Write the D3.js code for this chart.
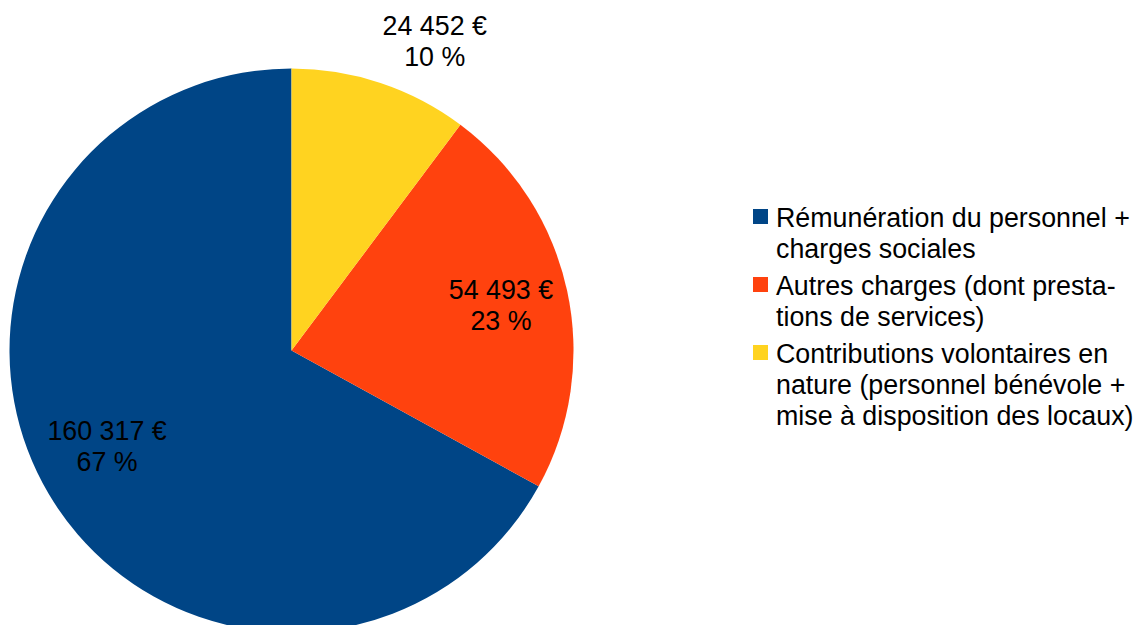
<!DOCTYPE html>
<html lang="fr">
<head>
  <meta charset="UTF-8">
  <style type="text/css">
    body {margin:0; background:#fff;}
    svg text {font-family: "Liberation Sans", Arial, sans-serif; font-size: 26.8px; fill: #000;}
  </style>
  <title>Charges</title>
</head>
<body>
  <svg id="chart" width="1138" height="625"></svg>

  <script src="https://d3js.org/d3.v7.min.js"></script>
  <script type="text/javascript">
    // data
    var categories = [
      "Rémunération du personnel + charges sociales",
      "Autres charges (dont prestations de services)",
      "Contributions volontaires en nature (personnel bénévole + mise à disposition des locaux)"
    ];
    var values = [160317, 54493, 24452];
    var legendLines = [
      ["Rémunération du personnel +", "charges sociales"],
      ["Autres charges (dont presta-", "tions de services)"],
      ["Contributions volontaires en", "nature (personnel bénévole +", "mise à disposition des locaux)"]
    ];
    var colors = ["#004586", "#ff420e", "#ffd320"];

    var svg = d3.select("#chart");
    var cx = 291.5, cy = 350.5, radius = 282;

    var total = d3.sum(values);
    var fr = d3.formatLocale({decimal: ",", thousands: " ", grouping: [3], currency: ["", " €"]});
    var fmtMoney = fr.format(",d");

    var color = d3.scaleOrdinal().domain(categories).range(colors);

    // LibreOffice draws slices counter-clockwise from 12 o'clock
    var pie = d3.pie()
        .sort(null)
        .value(function(d) { return d.value; })
        .startAngle(0)
        .endAngle(-2 * Math.PI);

    var data = categories.map(function(c, i) { return {name: c, value: values[i]}; });
    var arcs = pie(data);

    var arc = d3.arc().innerRadius(0).outerRadius(radius);

    var g = svg.append("g").attr("transform", "translate(" + cx + "," + cy + ")");

    g.selectAll("path.slice")
      .data(arcs)
      .enter().append("path")
        .attr("class", "slice")
        .attr("d", arc)
        .attr("fill", function(d) { return color(d.data.name); });

    // labels
    var inside = d3.arc().innerRadius(radius * 0.76).outerRadius(radius * 0.76);
    var outside = d3.arc().innerRadius(radius * 1.08).outerRadius(radius * 1.08);
    var nudge = {0: [0, -14]};

    arcs.forEach(function(d, i) {
      var pct = Math.round(d.value / total * 100) + " %";
      var lines = [fmtMoney(d.value) + " €", pct];
      var share = d.value / total;
      var lab = g.append("g");
      var texts = lab.selectAll("text").data(lines).enter().append("text")
          .attr("text-anchor", "middle")
          .text(function(t) { return t; });
      if (share > 0.15) {
        var c = inside.centroid(d);
        var n = nudge[i] || [0, 0];
        texts.attr("x", c[0] + n[0])
             .attr("y", function(t, k) { return c[1] + n[1] - 6 + k * 31; });
      } else {
        var p = outside.centroid(d);
        var w = d3.max(texts.nodes(), function(el) { return el.getComputedTextLength(); });
        texts.attr("x", p[0] - 5 + w / 2)
             .attr("y", function(t, k) { return p[1] + 4 - (lines.length - 1 - k) * 31; });
      }
    });

    // legend
    var legend = svg.append("g").attr("transform", "translate(753,227)");
    var yPos = 0;
    categories.forEach(function(c, i) {
      var item = legend.append("g").attr("transform", "translate(0," + yPos + ")");
      item.append("rect")
        .attr("x", 0).attr("y", -18)
        .attr("width", 15).attr("height", 15)
        .attr("fill", color(c));
      item.selectAll("text").data(legendLines[i]).enter().append("text")
        .attr("x", 23)
        .attr("y", function(t, k) { return k * 31; })
        .text(function(t) { return t; });
      yPos += legendLines[i].length * 31 + 6;
    });
  </script>
</body>
</html>
